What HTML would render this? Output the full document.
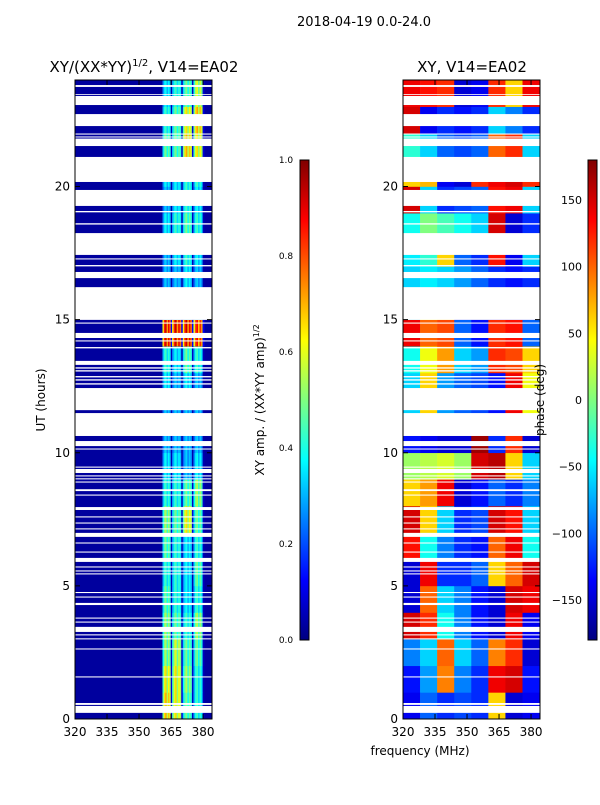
<!DOCTYPE html>
<html><head><meta charset="utf-8"><style>
body{margin:0;background:#fff;font-family:"Liberation Sans",sans-serif}
svg text{font-family:"DejaVu Sans","Liberation Sans",sans-serif}
</style></head><body>
<svg id="fig" width="600" height="800" xmlns="http://www.w3.org/2000/svg">
<defs>
<linearGradient id="jet" x1="0" y1="1" x2="0" y2="0">
<stop offset="0" stop-color="#000080"/><stop offset="0.125" stop-color="#0000ff"/><stop offset="0.375" stop-color="#00ffff"/><stop offset="0.625" stop-color="#ffff00"/><stop offset="0.875" stop-color="#ff0000"/><stop offset="1" stop-color="#800000"/>
</linearGradient>
</defs>
<text x="364" y="26" font-size="13" text-anchor="middle">2018-04-19 0.0-24.0</text>
<text x="144" y="72" font-size="15" text-anchor="middle">XY/(XX*YY)<tspan font-size="10" dy="-6">1/2</tspan><tspan dy="6">, V14=EA02</tspan></text>
<text x="472" y="72" font-size="15" text-anchor="middle">XY, V14=EA02</text>
<g id="left"></g>
<g id="right"></g>
<g id="axes"></g>
<rect x="300" y="160" width="9" height="480" fill="url(#jet)" stroke="#000" stroke-width="1"/>
<rect x="588" y="160" width="9" height="480" fill="url(#jet)" stroke="#000" stroke-width="1"/>
<text transform="translate(264,400) rotate(-90)" font-size="12" text-anchor="middle">XY amp. / (XX*YY amp)<tspan font-size="8" dy="-5">1/2</tspan></text>
<text transform="translate(544,400) rotate(-90)" font-size="12" text-anchor="middle">phase (deg)</text>
<text transform="translate(45,400) rotate(-90)" font-size="12" text-anchor="middle">UT (hours)</text>
<text x="420" y="755" font-size="12" text-anchor="middle">frequency (MHz)</text>
</svg>
<script>
const hours=[0,1,2,3,4,5,6,7,8,9,10,11,12,13,14,15,16,17,18,19,20,21,22,23];
const band1=[0.65,0.6,0.5,0.5,0.45,0.4,0.45,0.5,0.4,0.35,0.3,0.3,0.35,0.4,0.85,0.3,0.3,0.3,0.35,0.3,0.35,0.45,0.4,0.35];
const band2=[0.6,0.6,0.55,0.45,0.4,0.4,0.4,0.45,0.4,0.35,0.3,0.3,0.3,0.35,0.85,0.3,0.3,0.35,0.4,0.35,0.35,0.45,0.45,0.4];
const band3=[0.45,0.5,0.45,0.4,0.35,0.35,0.35,0.6,0.45,0.3,0.3,0.3,0.35,0.45,0.85,0.3,0.35,0.4,0.45,0.4,0.4,0.65,0.6,0.45];
const band4=[0.4,0.4,0.45,0.5,0.4,0.45,0.4,0.45,0.5,0.35,0.3,0.3,0.3,0.4,0.8,0.3,0.3,0.35,0.4,0.35,0.4,0.6,0.65,0.55];
const bandEdges=[[361,365.5],[365.5,370.5],[370.5,375.5],[375.5,380.5]];
const chanProfile=[0.75,1.0,1.1,0.85,1.05,0.9,0.15];
const phaseFreq=[320,328,336,344,352,360,368,376];
const phase=[
[-140,-100,-120,-110,-120,60,-150,-140],
[-130,-80,90,-90,-120,140,150,-130],
[-90,-60,100,-60,-100,90,120,-150],
[150,120,-40,-90,-130,-150,140,-140],
[-150,100,-60,-90,-130,-150,150,140],
[-150,140,-120,-120,-100,60,100,150],
[130,-40,-90,-120,-130,100,140,-40],
[150,60,-60,-120,-110,150,130,-60],
[60,80,140,-150,-130,-100,-120,-90],
[10,20,30,10,150,160,60,-60],
[-130,-140,-150,-150,170,-120,120,-150],
[-60,60,-80,-100,-110,-130,140,40],
[-60,60,-80,-100,-110,-130,140,40],
[-40,40,80,-60,-80,120,110,60],
[140,100,110,-100,-130,120,130,-100],
[-60,40,60,-130,-150,-140,-150,-140],
[-60,-50,-60,-80,-100,-120,-130,-120],
[-50,-30,60,-100,-120,130,-140,-60],
[-40,0,-20,-40,-60,150,-150,-120],
[150,-60,-120,-110,-100,130,140,-60],
[60,70,-140,-150,120,140,150,120],
[-30,-60,-100,-110,-100,100,120,-60],
[150,-140,-120,-130,-120,-60,-90,-120],
[140,130,120,-150,-140,120,60,140]];
const flagLo=[23.74,23.44,23.06,22.27,21.95,21.84,21.52,20.17,19.27,19.03,18.57,17.43,17.26,17.0,16.56,14.99,14.85,14.31,14.18,13.92,13.30,13.16,13.05,12.83,12.71,12.56,11.6,10.63,10.25,10.12,9.44,9.24,9.11,9.0,8.88,8.56,8.39,7.85,7.57,7.34,7.12,6.84,6.59,6.25,5.90,5.69,5.54,5.43,4.73,4.56,4.28,3.77,3.62,3.27,3.14,2.99,2.61,1.56,0.53,0.23];
const flagHi=[23.81,23.47,23.40,22.72,21.99,21.88,21.80,21.11,19.87,19.08,18.62,18.25,17.30,17.05,16.79,16.22,14.89,14.50,14.22,13.97,13.45,13.21,13.10,12.88,12.76,12.61,12.43,11.49,10.44,10.16,9.48,9.39,9.15,9.04,8.92,8.63,8.43,7.96,7.61,7.38,7.16,6.99,6.63,6.29,6.05,5.73,5.58,5.47,4.77,4.60,4.36,3.81,3.66,3.46,3.18,3.03,2.65,1.60,0.60,0.49];
const xTicks=[320,335,350,365,380];
const yTicks=[0,5,10,15,20];
const ampTicks=[0.0,0.2,0.4,0.6,0.8,1.0];
const phaseTicks=[-150,-100,-50,0,50,100,150];

const NS="http://www.w3.org/2000/svg";
const Y0=719,Y1=80;
const yScale=h=>Y0-(h/24)*(Y0-Y1);
const xL=f=>75+(f-320)*(137/64.2);
const xR=f=>403+(f-320)*(137/64.2);
function jet(v){v=Math.max(0,Math.min(1,v));
 const c=t=>Math.round(255*Math.max(0,Math.min(1,1.5-Math.abs(4*v-t))));
 return `rgb(${c(3)},${c(2)},${c(1)})`;}
function mk(tag,attrs,parent){const e=document.createElementNS(NS,tag);for(const k in attrs)e.setAttribute(k,attrs[k]);parent.appendChild(e);return e;}
const L=document.getElementById('left'),R=document.getElementById('right'),A=document.getElementById('axes');
const bg=mk('rect',{x:75,y:80,width:137,height:639,fill:jet(0.03)},L);


const bands=[band1,band2,band3,band4];
hours.forEach((h,i)=>{
 bands.forEach((b,j)=>{
  const [f0,f1]=bandEdges[j];const n=chanProfile.length;const w=(f1-f0)/n;
  chanProfile.forEach((p,k)=>{
   const r=mk('rect',{x:xL(f0+k*w),y:yScale(h+1),width:xL(f0+(k+1)*w)-xL(f0+k*w)+0.3,height:yScale(h)-yScale(h+1)+0.3,fill:jet(b[i]*p)},L);
   
   
  });
 });
 phaseFreq.forEach((f,j)=>{
  const f1=j<phaseFreq.length-1?phaseFreq[j+1]:384.2;
  const r=mk('rect',{x:xR(f),y:yScale(h+1),width:xR(f1)-xR(f)+0.3,height:yScale(h)-yScale(h+1)+0.3,fill:jet((phase[i][j]+180)/360)},R);
  
  
 });
});
flagLo.forEach((lo,i)=>{
 [[75,L],[403,R]].forEach(([x0,g])=>{
  const r=mk('rect',{x:x0,y:yScale(flagHi[i]),width:137,height:yScale(lo)-yScale(flagHi[i]),fill:'#fff'},g);
  
  
 });
});
[[75,xL],[403,xR]].forEach(([x0,xs],pi)=>{
 const fr=mk('rect',{x:x0,y:80,width:137,height:639,fill:'none',stroke:'#000','stroke-width':1},A);
 
 
 xTicks.forEach(t=>{const x=xs(t);
  mk('line',{x1:x,x2:x,y1:719,y2:714,stroke:'#000'},A);mk('line',{x1:x,x2:x,y1:80,y2:85,stroke:'#000'},A);
  const tx=mk('text',{x:x,y:736,'font-size':12,'text-anchor':'middle'},A);tx.textContent=t;
  
  
 });
 yTicks.forEach(t=>{const y=yScale(t);
  mk('line',{x1:x0,x2:x0+5,y1:y,y2:y,stroke:'#000'},A);mk('line',{x1:x0+137,x2:x0+132,y1:y,y2:y,stroke:'#000'},A);
  const tx=mk('text',{x:x0-5,y:y+4,'font-size':12,'text-anchor':'end'},A);tx.textContent=t;
  
  
 });
});
ampTicks.forEach(t=>{const y=640-t*480;
 mk('line',{x1:300,x2:304,y1:y,y2:y,stroke:'#000'},A);
 const tx=mk('text',{x:286,y:y+3,'font-size':9,'text-anchor':'middle'},A);tx.textContent=t.toFixed(1);
 
 
});
phaseTicks.forEach(t=>{const y=640-(t+180)/360*480;
 mk('line',{x1:588,x2:592,y1:y,y2:y,stroke:'#000'},A);
 const tx=mk('text',{x:582,y:y+4,'font-size':11,'text-anchor':'end'},A);tx.textContent=t<0?'\u2212'+(-t):t;
 
 
});
</script>
</body></html>
